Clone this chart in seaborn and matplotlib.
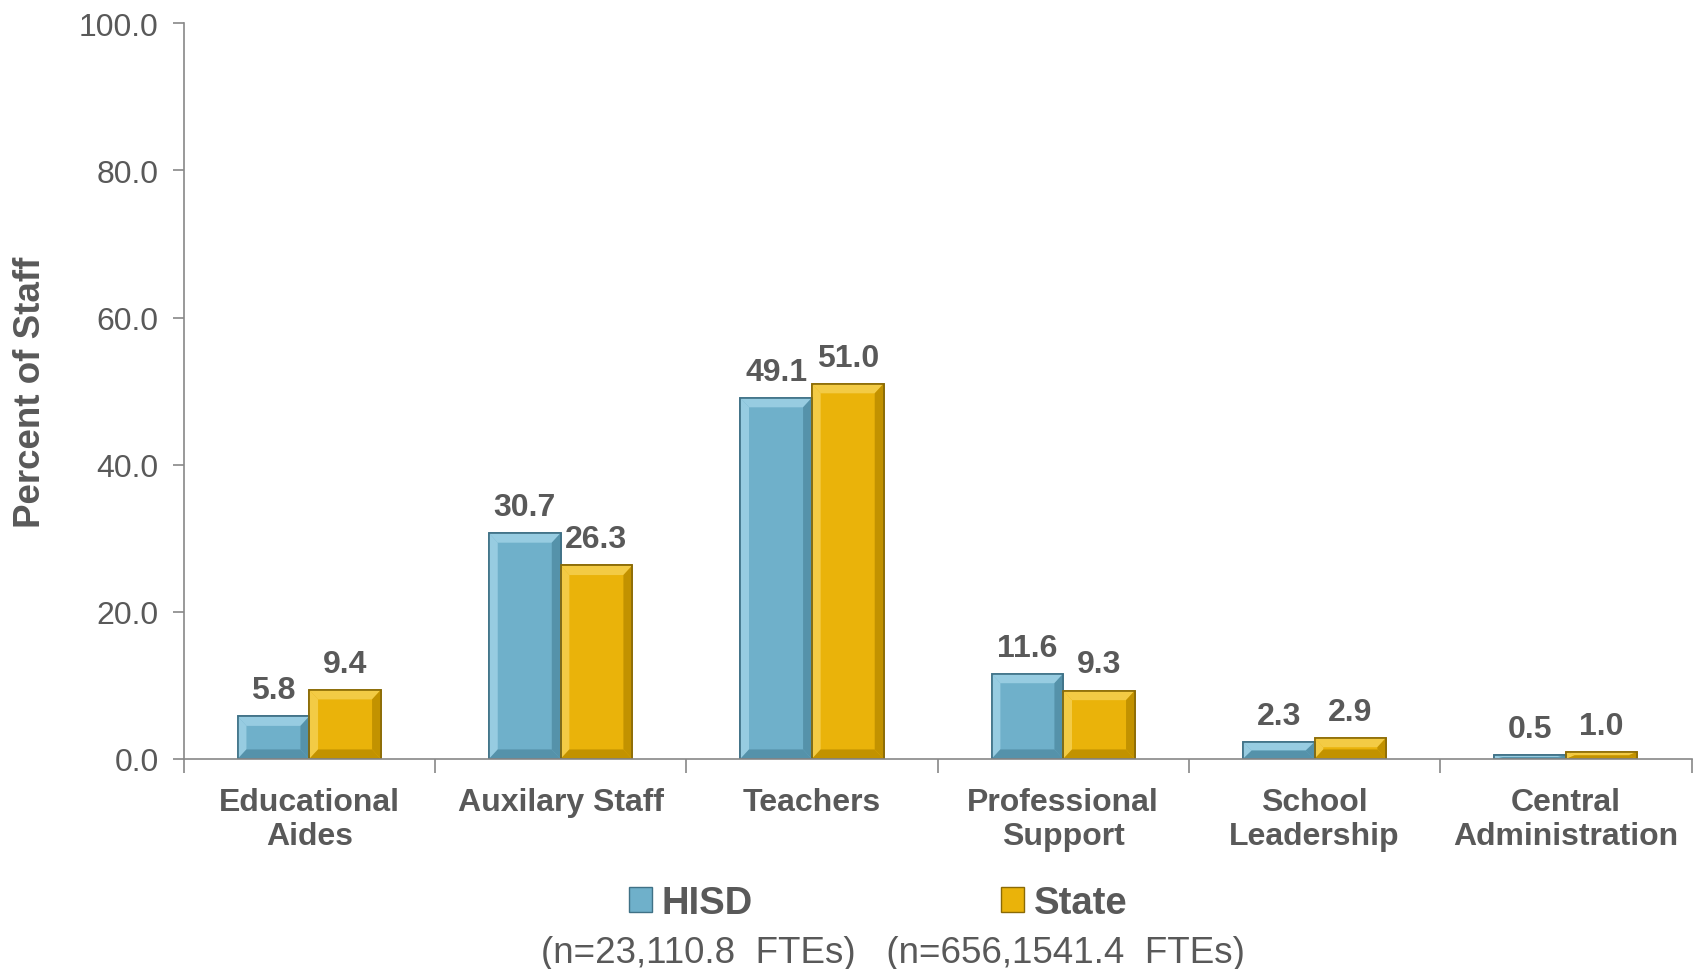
import matplotlib
matplotlib.use('Agg')
import matplotlib.pyplot as plt
import seaborn as sns
import pandas as pd
from matplotlib.patches import Patch, Polygon
from matplotlib.ticker import FixedLocator, FormatStrFormatter

categories = ["Educational\nAides", "Auxilary Staff", "Teachers", "Professional\nSupport",
              "School\nLeadership", "Central\nAdministration"]
hisd = [5.8, 30.7, 49.1, 11.6, 2.3, 0.5]
state = [9.4, 26.3, 51.0, 9.3, 2.9, 1.0]
series = ["HISD", "State"]
counts = ["(n=23,110.8  FTEs)", "(n=656,1541.4  FTEs)"]

colors = {"HISD": "#6FB0CA", "State": "#EAB30A"}
edges = {"HISD": "#3F7186", "State": "#8A6A05"}
light = {"HISD": "#97CCE1", "State": "#F3CB45"}
dark = {"HISD": "#5592AA", "State": "#C29200"}
gray = "#595959"

df = pd.DataFrame({
    "category": categories * 2,
    "value": hisd + state,
    "series": ["HISD"] * len(hisd) + ["State"] * len(state),
})

sns.set_style("white")
plt.rcParams["font.family"] = ["Liberation Sans", "DejaVu Sans"]

fig = plt.figure(figsize=(17, 9.7), dpi=100)
ax = fig.add_axes([0.108, 0.2165, 0.887, 0.7585])

sns.barplot(data=df, x="category", y="value", hue="series", palette=colors,
            width=0.57, gap=0, legend=False, ax=ax, saturation=1)

# fake bevel on each bar, like the office chart
for cont, s in zip(ax.containers, series):
    for bar in cont:
        bar.set_edgecolor(edges[s])
        bar.set_linewidth(1.2)
        x0, y0 = bar.get_x(), bar.get_y()
        w, h = bar.get_width(), bar.get_height()
        x1, y1 = x0 + w, y0 + h
        bx = 0.035
        by = min(1.3, h / 2)
        sides = [
            ([(x0, y1), (x1, y1), (x1 - bx, y1 - by), (x0 + bx, y1 - by)], light[s]),
            ([(x0, y0), (x0, y1), (x0 + bx, y1 - by), (x0 + bx, y0 + by)], light[s]),
            ([(x1, y0), (x1, y1), (x1 - bx, y1 - by), (x1 - bx, y0 + by)], dark[s]),
            ([(x0, y0), (x1, y0), (x1 - bx, y0 + by), (x0 + bx, y0 + by)], dark[s]),
        ]
        for pts, c in sides:
            ax.add_patch(Polygon(pts, closed=True, facecolor=c, edgecolor="none", zorder=bar.get_zorder() + 0.1))
        edge = plt.Rectangle((x0, y0), w, h, fill=False, edgecolor=edges[s], linewidth=1.2,
                             zorder=bar.get_zorder() + 0.2)
        ax.add_patch(edge)
    ax.bar_label(cont, fmt="%.1f", padding=8, fontsize=23, fontweight="bold", color=gray)

ax.set_ylim(0, 100)
ax.set_xlim(-0.5, len(categories) - 0.5)
ax.yaxis.set_major_locator(FixedLocator([0, 20, 40, 60, 80, 100]))
ax.yaxis.set_major_formatter(FormatStrFormatter("%.1f"))
ax.tick_params(axis="y", labelsize=23, labelcolor=gray, left=True, length=8,
               color="#888888", width=1.2, pad=10)
ax.tick_params(axis="x", which="major", length=0, labelsize=23, labelcolor=gray, pad=20)
ax.set_xticks([i - 0.5 for i in range(len(categories) + 1)], minor=True)
ax.tick_params(axis="x", which="minor", bottom=True, length=10, color="#888888", width=1.2)
for lab in ax.get_xticklabels():
    lab.set_fontweight("bold")

ax.set_xlabel("")
ax.set_ylabel("Percent of Staff", fontsize=26.5, fontweight="bold", color=gray, labelpad=22)

for side in ["top", "right"]:
    ax.spines[side].set_visible(False)
for side in ["left", "bottom"]:
    ax.spines[side].set_color("#888888")
    ax.spines[side].set_linewidth(1.2)

handles = [Patch(facecolor=colors[s], edgecolor=edges[s], label=s) for s in series]
leg = fig.legend(handles=handles, loc="center", bbox_to_anchor=(0.5165, 0.068), ncol=2,
                 frameon=False, handlelength=0.6, handleheight=0.6, handletextpad=0.25,
                 columnspacing=6.5, prop={"size": 27.5, "weight": "bold"})
for t in leg.get_texts():
    t.set_color(gray)

fig.text(0.525, 0.017, counts[0] + "   " + counts[1], ha="center", va="center",
         fontsize=26.5, color=gray)

plt.savefig("out.png", dpi=100)
plt.close()
